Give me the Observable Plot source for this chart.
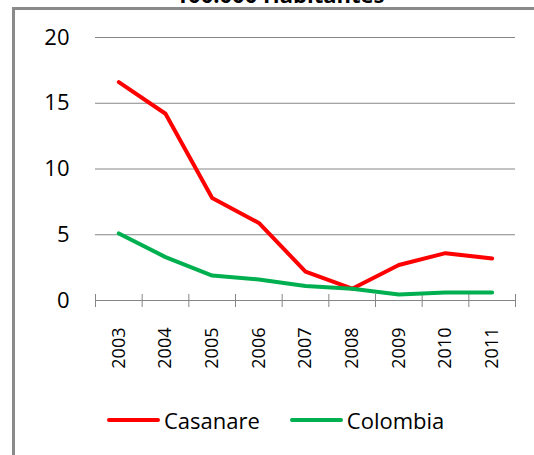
<!DOCTYPE html>
<html>
<head>
<meta charset="utf-8">
<script src="https://cdn.jsdelivr.net/npm/d3@7"></script>
<script src="https://cdn.jsdelivr.net/npm/@observablehq/plot@0.6"></script>
<style>
  body { margin: 0; background: #fff; font-family: "Open Sans", sans-serif; }
  #wrap { position: relative; width: 534px; height: 455px; overflow: hidden; background: #fff; }
  #title { position: absolute; left: 0; width: 560px; top: -21px; line-height: 30px; text-align: center; font-size: 22px; font-weight: bold; color: #000; }
  #frame { position: absolute; left: 12px; top: 7px; width: 600px; height: 500px; border-left: 3px solid #8a8a8a; border-top: 3px solid #8a8a8a; }
  #chart { position: absolute; left: 0; top: 0; }
  #legend { position: absolute; left: 107px; top: 405px; display: flex; gap: 30px; font-size: 22px; line-height: 30px; color: #000; }
  .item { display: flex; align-items: center; }
  .sw { width: 53px; height: 4px; border-radius: 2px; margin-right: 4px; }
</style>
</head>
<body>
<div id="wrap">
  <div id="title">100.000 Habitantes</div>
  <div id="frame"></div>
  <div id="chart"></div>
  <div id="legend"></div>
</div>
<script>
const years = [2003, 2004, 2005, 2006, 2007, 2008, 2009, 2010, 2011];
const casanare = [16.6, 14.2, 7.8, 5.9, 2.2, 0.9, 2.7, 3.6, 3.2];
const colombia = [5.1, 3.3, 1.9, 1.6, 1.1, 0.9, 0.45, 0.6, 0.6];
const seriesNames = ["Casanare", "Colombia"];
const seriesColors = ["#FF0000", "#00B050"];
const yTicks = [0, 5, 10, 15, 20];

const data = [];
years.forEach((yr, i) => {
  data.push({year: yr, value: casanare[i], series: seriesNames[0]});
  data.push({year: yr, value: colombia[i], series: seriesNames[1]});
});
const bounds = years.map(y => y - 0.5).concat([years[years.length - 1] + 0.5]);

const plot = Plot.plot({
  width: 534,
  height: 400,
  marginLeft: 95,
  marginRight: 19,
  marginTop: 37,
  marginBottom: 100,
  style: {fontFamily: "'Open Sans', sans-serif", background: "transparent", color: "#000"},
  x: {type: "linear", domain: [bounds[0], bounds[bounds.length - 1]]},
  y: {domain: [yTicks[0], yTicks[yTicks.length - 1]]},
  color: {domain: seriesNames, range: seriesColors},
  marks: [
    Plot.gridY(yTicks.filter(v => v > 0), {stroke: "#868686", strokeOpacity: 1, strokeWidth: 1}),
    Plot.ruleY([0], {stroke: "#868686"}),
    Plot.ruleX(bounds, {x: d => d, y1: 0, y2: 0, insetTop: -6, insetBottom: -7, stroke: "#868686"}),
    Plot.axisY({ticks: yTicks, tickSize: 0, tickPadding: 26, fontSize: 22, label: null}),
    Plot.axisX({ticks: years, tickFormat: d => String(d), tickRotate: -90, tickSize: 0, tickPadding: 27, fontSize: 18, label: null}),
    Plot.line(data, {x: "year", y: "value", stroke: "series", z: "series", strokeWidth: 4, strokeLinejoin: "round", strokeLinecap: "round"})
  ]
});
document.getElementById("chart").appendChild(plot);

const legend = document.getElementById("legend");
seriesNames.forEach((name, i) => {
  const item = document.createElement("div");
  item.className = "item";
  const sw = document.createElement("div");
  sw.className = "sw";
  sw.style.background = seriesColors[i];
  const label = document.createElement("span");
  label.textContent = name;
  item.appendChild(sw);
  item.appendChild(label);
  legend.appendChild(item);
});
</script>
</body>
</html>
